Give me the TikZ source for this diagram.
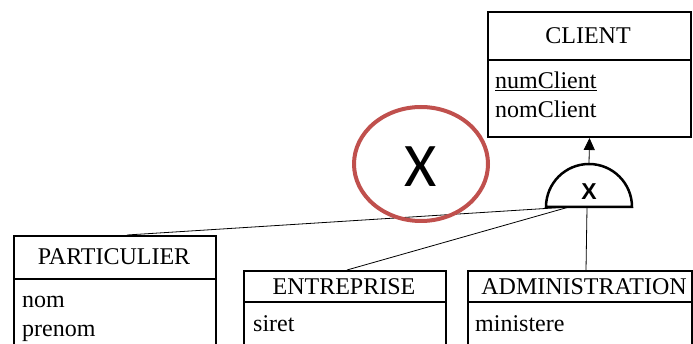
\documentclass[tikz,border=0pt]{standalone}
\usepackage{fontspec}
\setmainfont{Liberation Serif}
\newfontfamily\calfont{Carlito}
\newfontfamily\arialfont{Liberation Sans}
\usetikzlibrary{arrows.meta,shapes.geometric}
\definecolor{redring}{RGB}{192,80,77}
\begin{document}
\begin{tikzpicture}[x=1pt,y=-1pt,
  box/.style={draw, line width=2pt, inner sep=0pt, anchor=north west},
  lbl/.style={inner sep=0pt, anchor=base, font=\fontsize{24}{28}\selectfont},
  attr/.style={inner sep=0pt, anchor=base west, font=\fontsize{24}{28}\selectfont},
  link/.style={line width=0.8pt},
  divider/.style={line width=2pt}]
\clip (0,0) rectangle (693,344);
\fill[white] (0,0) rectangle (693,344);
% boxes
\node[box, minimum width=203, minimum height=125] (client) at (487,11) {};
\draw[divider] (487,60) -- (690,60);
\node[box, minimum width=202, minimum height=150] (particulier) at (13,235) {};
\draw[divider] (13,279) -- (215,279);
\node[box, minimum width=202, minimum height=120] (entreprise) at (243,270) {};
\draw[divider] (243,302) -- (445,302);
\node[box, minimum width=224, minimum height=120] (administration) at (467,270) {};
\draw[divider] (467,302) -- (691,302);
% texts
\node[lbl] (tclient) at (588,44) {CLIENT};
\node[attr] (numc) at (495,89) {\underline{numClient}};
\node[attr] (nomc) at (495,118) {nomClient};
\node[lbl] (tpart) at (114,265) {PARTICULIER};
\node[attr] (nom) at (22,308) {nom};
\node[attr] (prenom) at (22,337) {prenom};
\node[lbl] (tent) at (344,295) {ENTREPRISE};
\node[attr] (siret) at (253,332) {siret};
\node[lbl] (tadm) at (584,295) {ADMINISTRATION};
\node[attr] (mini) at (475,332) {ministere};
% specialisation symbol
\coordinate (gtop) at (589,164);
\coordinate (g1) at (569,207);
\coordinate (g2) at (587,208);
\coordinate (pin) at (127,235);
\coordinate (ein) at (347,270);
\coordinate (ain) at (586,270);
\draw[link] (g1) -- (pin);
\draw[link] (g1) -- (ein);
\draw[link] (g2) -- (ain);
\draw[line width=2.5pt, fill=white] (546,207) arc (180:360:43) -- cycle;
\node[inner sep=0pt, font=\arialfont\bfseries\fontsize{23}{23}\selectfont] (gen) at (589,192) {X};
\draw[link, -{Triangle[length=12pt,width=11pt]}] (gtop) -- (client.south);
% red ring
\node[draw=redring, line width=4pt, ellipse, minimum width=134, minimum height=114, inner sep=0pt] (ring) at (421,164) {};
\node[inner sep=0pt, font=\calfont\fontsize{62}{62}\selectfont] (ringx) at (421,167) {X};
\end{tikzpicture}
\end{document}
